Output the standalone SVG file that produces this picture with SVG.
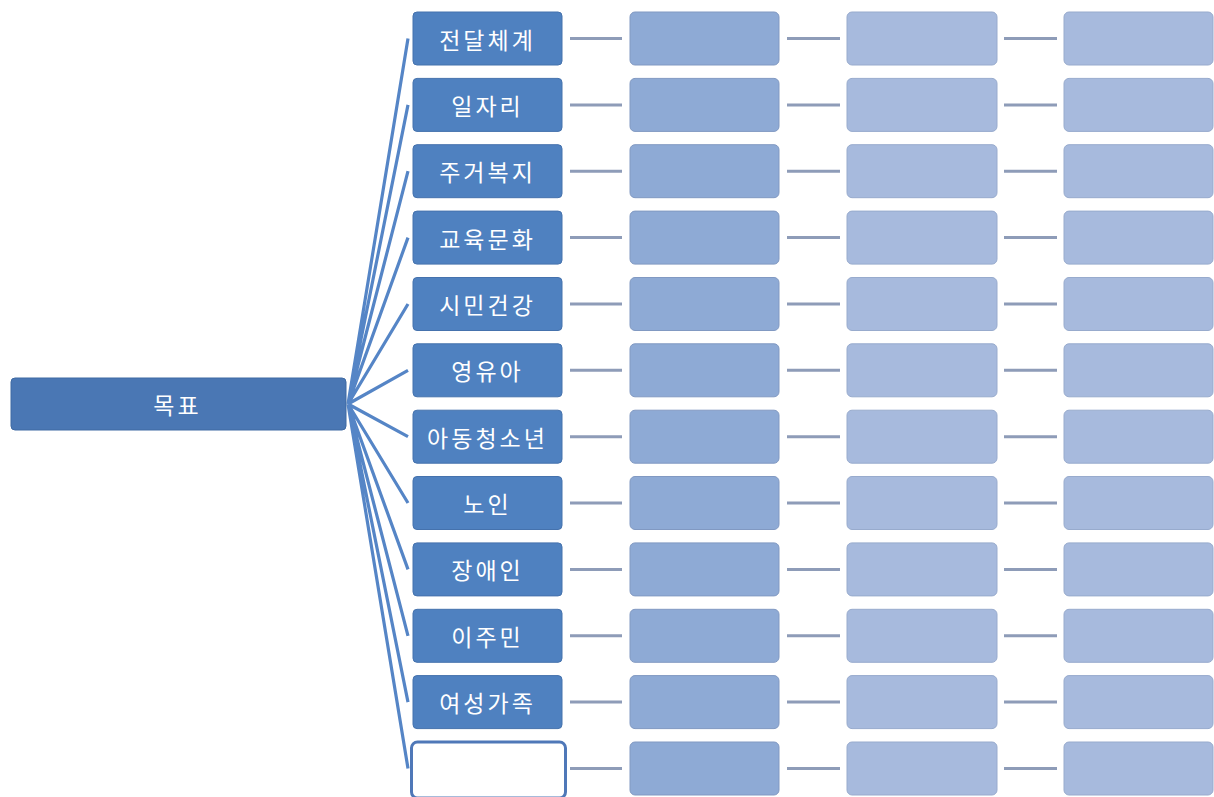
<svg xmlns="http://www.w3.org/2000/svg" width="1214" height="797" viewBox="0 0 1214 797">
<style>
.root{fill:#4a77b4;stroke:#3f6aa3;stroke-width:1}
.c1{fill:#4f81c0;stroke:#4572ad;stroke-width:1}
.c2{fill:#8eaad5;stroke:#8199c2;stroke-width:1}
.c3{fill:#a7badd;stroke:#98abcd;stroke-width:1}
.empty{fill:#ffffff;stroke:#4f78b8;stroke-width:3}
.t{font-family:"Noto Sans CJK KR","Noto Sans",sans-serif;font-size:23px;letter-spacing:3px;fill:#ffffff;text-anchor:middle;dominant-baseline:central}
.spoke{stroke:#5585c6;stroke-width:3.2;fill:none}
.link{stroke:#8e9cb8;stroke-width:3;fill:none}
</style>
<rect width="1214" height="797" fill="#ffffff"/>
<g id="connectors">
<path class="spoke" d="M348 404L408 38.5M348 404L408 104.9M348 404L408 171.2M348 404L408 237.6M348 404L408 304M348 404L408 370.3M348 404L408 436.7M348 404L408 503M348 404L408 569.4M348 404L408 635.8M348 404L408 702.1M348 404L408 768.5"/>
<path class="link" d="M570 38.5H622M787 38.5H840M1004 38.5H1057
M570 104.9H622M787 104.9H840M1004 104.9H1057
M570 171.2H622M787 171.2H840M1004 171.2H1057
M570 237.6H622M787 237.6H840M1004 237.6H1057
M570 304H622M787 304H840M1004 304H1057
M570 370.3H622M787 370.3H840M1004 370.3H1057
M570 436.7H622M787 436.7H840M1004 436.7H1057
M570 503H622M787 503H840M1004 503H1057
M570 569.4H622M787 569.4H840M1004 569.4H1057
M570 635.8H622M787 635.8H840M1004 635.8H1057
M570 702.1H622M787 702.1H840M1004 702.1H1057
M570 768.5H622M787 768.5H840M1004 768.5H1057"/>
</g>
<g id="root"><rect class="root" x="11" y="378" width="335" height="52" rx="4"/><text class="t" x="176" y="404" dx="1.5">목표</text></g>
<g id="n1"><rect class="c1" x="413" y="12" width="149" height="53" rx="4"/><text class="t" x="486" y="38.5" dx="1.5">전달체계</text></g>
<g id="n2"><rect class="c1" x="413" y="78.4" width="149" height="53" rx="4"/><text class="t" x="486" y="104.9" dx="1.5">일자리</text></g>
<g id="n3"><rect class="c1" x="413" y="144.7" width="149" height="53" rx="4"/><text class="t" x="486" y="171.2" dx="1.5">주거복지</text></g>
<g id="n4"><rect class="c1" x="413" y="211.1" width="149" height="53" rx="4"/><text class="t" x="486" y="237.6" dx="1.5">교육문화</text></g>
<g id="n5"><rect class="c1" x="413" y="277.5" width="149" height="53" rx="4"/><text class="t" x="486" y="304" dx="1.5">시민건강</text></g>
<g id="n6"><rect class="c1" x="413" y="343.8" width="149" height="53" rx="4"/><text class="t" x="486" y="370.3" dx="1.5">영유아</text></g>
<g id="n7"><rect class="c1" x="413" y="410.2" width="149" height="53" rx="4"/><text class="t" x="486" y="436.7" dx="1.5">아동청소년</text></g>
<g id="n8"><rect class="c1" x="413" y="476.5" width="149" height="53" rx="4"/><text class="t" x="486" y="503" dx="1.5">노인</text></g>
<g id="n9"><rect class="c1" x="413" y="542.9" width="149" height="53" rx="4"/><text class="t" x="486" y="569.4" dx="1.5">장애인</text></g>
<g id="n10"><rect class="c1" x="413" y="609.3" width="149" height="53" rx="4"/><text class="t" x="486" y="635.8" dx="1.5">이주민</text></g>
<g id="n11"><rect class="c1" x="413" y="675.6" width="149" height="53" rx="4"/><text class="t" x="486" y="702.1" dx="1.5">여성가족</text></g>
<g id="n12"><rect class="empty" x="411.5" y="742" width="154" height="56" rx="6"/></g>
<g id="col2">
<rect class="c2" x="630" y="12" width="149" height="53" rx="5"/>
<rect class="c2" x="630" y="78.4" width="149" height="53" rx="5"/>
<rect class="c2" x="630" y="144.7" width="149" height="53" rx="5"/>
<rect class="c2" x="630" y="211.1" width="149" height="53" rx="5"/>
<rect class="c2" x="630" y="277.5" width="149" height="53" rx="5"/>
<rect class="c2" x="630" y="343.8" width="149" height="53" rx="5"/>
<rect class="c2" x="630" y="410.2" width="149" height="53" rx="5"/>
<rect class="c2" x="630" y="476.5" width="149" height="53" rx="5"/>
<rect class="c2" x="630" y="542.9" width="149" height="53" rx="5"/>
<rect class="c2" x="630" y="609.3" width="149" height="53" rx="5"/>
<rect class="c2" x="630" y="675.6" width="149" height="53" rx="5"/>
<rect class="c2" x="630" y="742" width="149" height="53" rx="5"/>
</g>
<g id="col3">
<rect class="c3" x="847" y="12" width="150" height="53" rx="5"/>
<rect class="c3" x="847" y="78.4" width="150" height="53" rx="5"/>
<rect class="c3" x="847" y="144.7" width="150" height="53" rx="5"/>
<rect class="c3" x="847" y="211.1" width="150" height="53" rx="5"/>
<rect class="c3" x="847" y="277.5" width="150" height="53" rx="5"/>
<rect class="c3" x="847" y="343.8" width="150" height="53" rx="5"/>
<rect class="c3" x="847" y="410.2" width="150" height="53" rx="5"/>
<rect class="c3" x="847" y="476.5" width="150" height="53" rx="5"/>
<rect class="c3" x="847" y="542.9" width="150" height="53" rx="5"/>
<rect class="c3" x="847" y="609.3" width="150" height="53" rx="5"/>
<rect class="c3" x="847" y="675.6" width="150" height="53" rx="5"/>
<rect class="c3" x="847" y="742" width="150" height="53" rx="5"/>
</g>
<g id="col4">
<rect class="c3" x="1064" y="12" width="149" height="53" rx="5"/>
<rect class="c3" x="1064" y="78.4" width="149" height="53" rx="5"/>
<rect class="c3" x="1064" y="144.7" width="149" height="53" rx="5"/>
<rect class="c3" x="1064" y="211.1" width="149" height="53" rx="5"/>
<rect class="c3" x="1064" y="277.5" width="149" height="53" rx="5"/>
<rect class="c3" x="1064" y="343.8" width="149" height="53" rx="5"/>
<rect class="c3" x="1064" y="410.2" width="149" height="53" rx="5"/>
<rect class="c3" x="1064" y="476.5" width="149" height="53" rx="5"/>
<rect class="c3" x="1064" y="542.9" width="149" height="53" rx="5"/>
<rect class="c3" x="1064" y="609.3" width="149" height="53" rx="5"/>
<rect class="c3" x="1064" y="675.6" width="149" height="53" rx="5"/>
<rect class="c3" x="1064" y="742" width="149" height="53" rx="5"/>
</g>
</svg>
